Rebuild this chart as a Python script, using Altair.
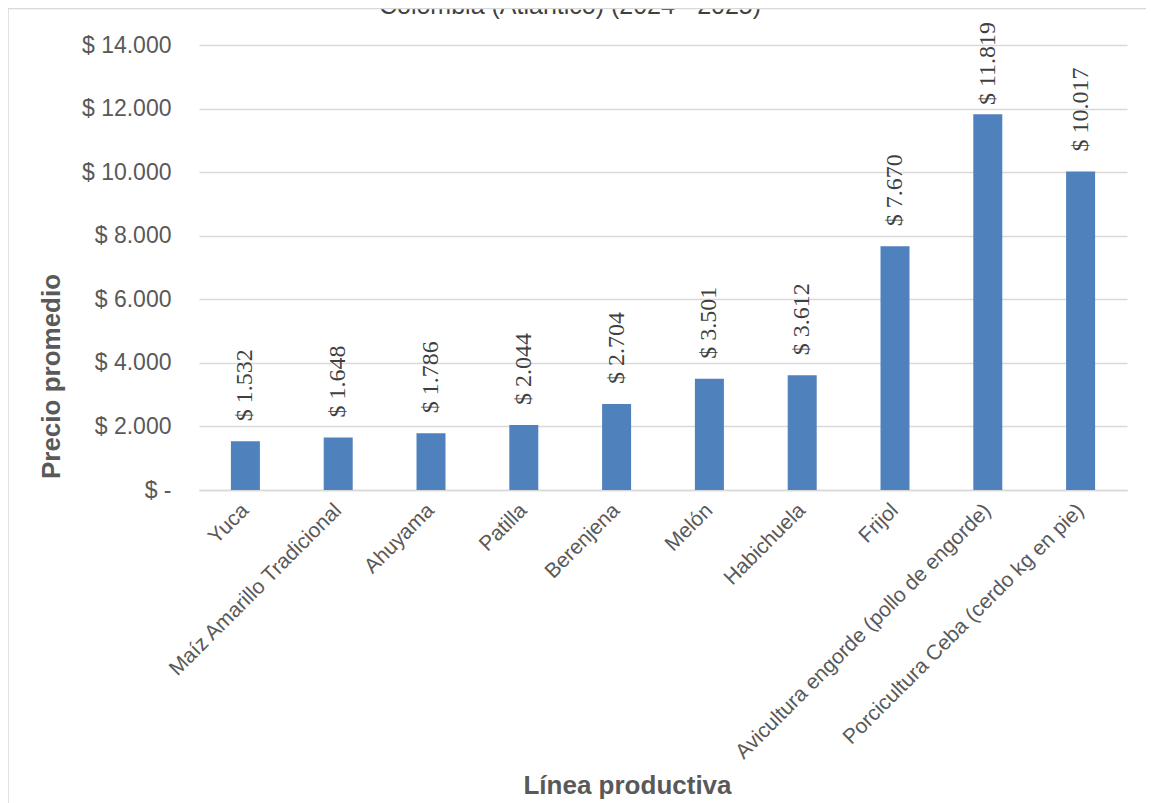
import altair as alt
import pandas as pd

categories = [
    "Yuca",
    "Maíz Amarillo Tradicional",
    "Ahuyama",
    "Patilla",
    "Berenjena",
    "Melón",
    "Habichuela",
    "Frijol",
    "Avicultura engorde (pollo de engorde)",
    "Porcicultura Ceba (cerdo kg en pie)",
]
prices = [1532, 1648, 1786, 2044, 2704, 3501, 3612, 7670, 11819, 10017]
y_ticks = [0, 2000, 4000, 6000, 8000, 10000, 12000, 14000]
title_text = "Colombia (Atlántico) (2024 - 2025)"
label_anchor_max = 11480  # labels are kept inside the chart area

df = pd.DataFrame({"linea": categories, "precio": prices})
df["etiqueta"] = ["$ " + f"{v:,}".replace(",", ".") for v in prices]

GRAY = "#595959"
GRID = "#D9D9D9"
W, H = 928, 445
PL, PT, PR, PB = 191, 37, 19, 313

x_enc = alt.X(
    "linea:N",
    sort=categories,
    scale=alt.Scale(paddingInner=0, paddingOuter=0),
    axis=alt.Axis(
        title="Línea productiva",
        labelAngle=-45,
        labelAlign="right",
        labelBaseline="middle",
        labelFont="Liberation Sans",
        labelFontSize=21,
        labelColor=GRAY,
        labelPadding=17,
        labelLimit=0,
        ticks=False,
        domainColor=GRID,
        domainWidth=1.5,
        titleFont="Liberation Sans",
        titleFontSize=26,
        titleFontWeight="bold",
        titleColor=GRAY,
        titleX=428,
        titleY=295,
        titleAlign="center",
        titleBaseline="middle",
    ),
)

y_enc = alt.Y(
    "precio:Q",
    scale=alt.Scale(domain=[0, 14000], nice=False),
    axis=alt.Axis(
        values=y_ticks,
        labelExpr="datum.value == 0 ? '$ -\u00a0\u00a0' : '$ ' + replace(format(datum.value, ',.0f'), ',', '.')",
        grid=True,
        gridColor=GRID,
        gridWidth=1.3,
        domain=False,
        ticks=False,
        labelPadding=28,
        labelFont="Liberation Sans",
        labelFontSize=23,
        labelColor=GRAY,
        title="Precio promedio",
        titleFont="Liberation Sans",
        titleFontSize=26,
        titleFontWeight="bold",
        titleColor=GRAY,
        titleAngle=-90,
        titleX=-148,
        titleY=331,
        titleAlign="center",
        titleBaseline="middle",
    ),
)

base = alt.Chart(df)

bars = base.mark_bar(size=29, color="#4F81BD").encode(x=x_enc, y=y_enc)

labels = (
    base.transform_calculate(ly=f"min(datum.precio, {label_anchor_max})")
    .mark_text(
        angle=270,
        align="left",
        baseline="middle",
        dx=20,
        font="Liberation Serif",
        fontSize=24,
        color="#404040",
    )
    .encode(x=alt.X("linea:N", sort=categories), y="ly:Q", text="etiqueta:N")
)

title_df = pd.DataFrame({"t": [title_text]})
title_mark = alt.Chart(title_df).mark_text(
    font="Liberation Sans", fontSize=25, color="#404040", align="center", baseline="alphabetic"
).encode(x=alt.value(371), y=alt.value(-31), text="t:N")

frame_v = alt.Chart(title_df).mark_rule(color=GRID, strokeWidth=1.5).encode(
    x=alt.value(-191), y=alt.value(-37), y2=alt.value(795 - 37)
)
frame_h = alt.Chart(title_df).mark_rule(color=GRID, strokeWidth=1.5).encode(
    x=alt.value(-191), x2=alt.value(1138 - 191), y=alt.value(-36.5)
)

chart = (
    alt.layer(bars, labels, title_mark, frame_v, frame_h)
    .properties(
        width=W,
        height=H,
        autosize=alt.AutoSizeParams(type="none"),
        padding={"left": PL, "top": PT, "right": PR, "bottom": PB},
    )
    .configure_view(stroke=None)
)

chart.save("out.html", embed_options={"renderer": "svg", "actions": False})
